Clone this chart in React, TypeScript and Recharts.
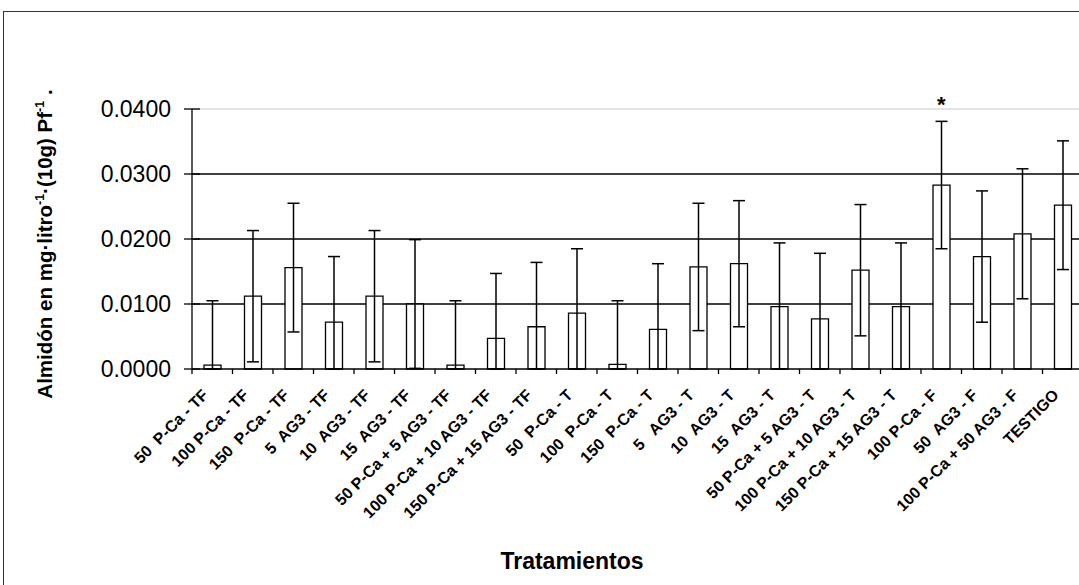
import React from "react";
import { BarChart, Bar, XAxis, YAxis, CartesianGrid, ErrorBar, ReferenceDot } from "recharts";

const categories = [
  "50  P-Ca - TF",
  "100 P-Ca - TF",
  "150  P-Ca - TF",
  "5  AG3 - TF",
  "10  AG3 - TF",
  "15  AG3 - TF",
  "50 P-Ca + 5 AG3 - TF",
  "100 P-Ca + 10 AG3 - TF",
  "150 P-Ca + 15 AG3 - TF",
  "50  P-Ca - T",
  "100  P-Ca - T",
  "150  P-Ca - T",
  "5   AG3 - T",
  "10  AG3 - T",
  "15  AG3 - T",
  "50 P-Ca + 5 AG3 - T",
  "100 P-Ca + 10 AG3 - T",
  "150 P-Ca + 15 AG3 - T",
  "100 P-Ca - F",
  "50  AG3 - F",
  "100 P-Ca + 50 AG3 - F",
  "TESTIGO",
];

const means = [
  0.0006, 0.0112, 0.0156, 0.0072, 0.0112, 0.01, 0.0006, 0.0047, 0.0065, 0.0086, 0.0007,
  0.0061, 0.0157, 0.0162, 0.0096, 0.0077, 0.0152, 0.0096, 0.0283, 0.0173, 0.0208, 0.0252,
];

const errors = [
  0.0099, 0.0101, 0.0099, 0.0101, 0.0101, 0.0099, 0.0099, 0.01, 0.0099, 0.0099, 0.0098,
  0.0101, 0.0098, 0.0097, 0.0098, 0.0101, 0.0101, 0.0098, 0.0098, 0.0101, 0.01, 0.0099,
];

const yTicks = [0, 0.01, 0.02, 0.03, 0.04];

// significance mark drawn above one bar
const starCategory = "100 P-Ca - F";
const starValue = 0.0408;

const W = 1100;
const H = 585;
const MARGIN = { top: 109, right: 17, bottom: 0, left: 0 };
const Y_AXIS_W = 192;
const X_AXIS_H = 216;
const BAND = (W - Y_AXIS_W - MARGIN.right) / categories.length;
const FONT = '"Liberation Sans", Arial, sans-serif';

const data = categories.map((name, i) => ({
  name,
  mean: means[i],
  // lower whisker stops at zero, like the original
  err: [Math.min(errors[i], means[i]), errors[i]],
}));

function XTick({ x, y, payload }: any) {
  const left = x - BAND / 2;
  const ax = x - 3;
  const ay = y + 27;
  return (
    <g>
      <line x1={left} y1={y} x2={left} y2={y + 5} stroke="#000" strokeWidth={1.3} />
      <text
        x={ax}
        y={ay}
        transform={`rotate(-45 ${ax} ${ay})`}
        textAnchor="end"
        fontSize={16}
        fontWeight="bold"
        fontFamily={FONT}
        fill="#000"
        style={{ whiteSpace: "pre" }}
      >
        {payload.value}
      </text>
    </g>
  );
}

function YTick({ x, y, payload }: any) {
  return (
    <g>
      <line x1={x + 21} y1={y} x2={x + 29} y2={y} stroke="#000" strokeWidth={1.3} />
      <text x={x} y={y} dy="0.36em" textAnchor="end" fontSize={23} fontFamily={FONT} fill="#000">
        {Number(payload.value).toFixed(4)}
      </text>
    </g>
  );
}

function YTitle() {
  return (
    <text
      transform="translate(52 244) rotate(-90)"
      textAnchor="middle"
      fontSize={20.5}
      fontWeight="bold"
      fontFamily={FONT}
      fill="#000"
    >
      Almidón en mg·litro
      <tspan dy={-8} fontSize={12.5}>-1</tspan>
      <tspan dy={8}>·(10g) Pf</tspan>
      <tspan dy={-8} fontSize={12.5}>-1</tspan>
      <tspan dy={8}> .</tspan>
    </text>
  );
}

function XTitle() {
  return (
    <text x={572} y={569} textAnchor="middle" fontSize={23} fontWeight="bold" fontFamily={FONT} fill="#000">
      Tratamientos
    </text>
  );
}

export default function App() {
  return (
    <div
      style={{
        position: "fixed",
        left: 0,
        top: 0,
        width: 1079,
        height: 585,
        overflow: "hidden",
        background: "#fff",
        fontFamily: FONT,
      }}
    >
      {/* outer chart frame, cut off on the right and bottom */}
      <div
        style={{
          position: "absolute",
          left: 3,
          top: 11,
          width: 1200,
          height: 800,
          borderTop: "1px solid #333",
          borderLeft: "1px solid #333",
        }}
      />
      <div style={{ position: "absolute", left: 0, top: 0 }}>
        <BarChart width={W} height={H} data={data} margin={MARGIN}>
          <CartesianGrid vertical={false} horizontalValues={[0.04]} stroke="#c8c8c8" strokeWidth={1.2} />
          <CartesianGrid vertical={false} horizontalValues={[0.01, 0.02, 0.03]} stroke="#000" strokeWidth={1.3} />
          <XAxis
            dataKey="name"
            interval={0}
            height={X_AXIS_H}
            tickLine={false}
            tickSize={0}
            tickMargin={0}
            tick={<XTick />}
            axisLine={{ stroke: "#000", strokeWidth: 1.3 }}
            label={<XTitle />}
          />
          <YAxis
            width={Y_AXIS_W}
            domain={[0, 0.04]}
            ticks={yTicks}
            tickSize={8}
            tickMargin={13}
            tickLine={{ stroke: "#000", strokeWidth: 1.3 }}
            tick={<YTick />}
            axisLine={{ stroke: "#000", strokeWidth: 1.3 }}
            label={<YTitle />}
          />
          <Bar dataKey="mean" fill="#fff" stroke="#000" strokeWidth={1.3} barSize={17} isAnimationActive={false}>
            <ErrorBar dataKey="err" direction="y" width={6} stroke="#000" strokeWidth={1.5} isAnimationActive={false} />
          </Bar>
          <ReferenceDot
            x={starCategory}
            y={starValue}
            r={0}
            ifOverflow="visible"
            label={{ value: "*", position: "center", fontSize: 22, fontWeight: "bold", fill: "#000" }}
          />
        </BarChart>
      </div>
    </div>
  );
}
